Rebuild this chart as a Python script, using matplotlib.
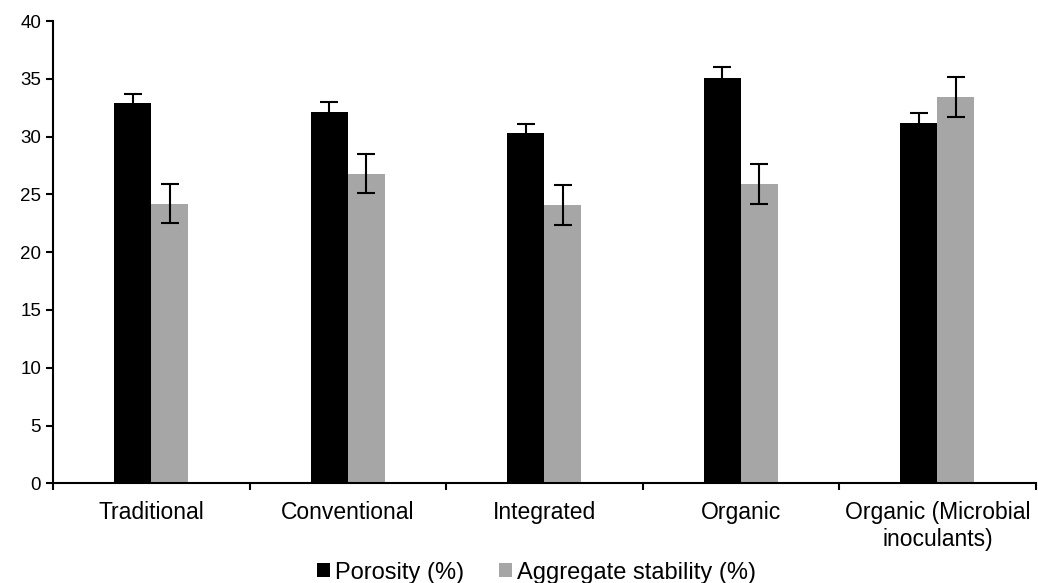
"""
Porosity and aggregate stability by farming system
"""
import numpy as np
import matplotlib.pyplot as plt

plt.rcParams['font.family'] = ['Liberation Sans', 'DejaVu Sans']

# data
categories = ['Traditional', 'Conventional', 'Integrated', 'Organic',
              'Organic (Microbial\ninoculants)']
porosity = [32.9, 32.1, 30.3, 35.1, 31.2]
porosity_err = [0.8, 0.9, 0.8, 0.9, 0.85]
stability = [24.2, 26.8, 24.1, 25.9, 33.4]
stability_err = [1.72, 1.72, 1.72, 1.72, 1.72]

fig = plt.figure(figsize=(10.38, 5.83), dpi=100)
ax = fig.add_axes([53 / 1038, 1 - 483.3 / 583, (1035.7 - 53) / 1038, (483.3 - 21) / 583])

x = np.arange(len(categories))
w = 0.188
err_kw = dict(ecolor='black', elinewidth=1.5, capsize=6.5, capthick=1.5)

ax.bar(x - w / 2, porosity, w, yerr=porosity_err, color='black',
       label='Porosity (%)', error_kw=err_kw)
ax.bar(x + w / 2, stability, w, yerr=stability_err, color='#a6a6a6',
       label='Aggregate stability (%)', error_kw=err_kw)

ax.set_xlim(-0.5, len(categories) - 0.5)
ax.set_ylim(0, 40)
ax.set_yticks(range(0, 41, 5))
ax.tick_params(axis='y', labelsize=13.5, length=5, width=1.5, direction='out')

# category labels between boundary ticks
ax.set_xticks(np.arange(len(categories) + 1) - 0.5)
ax.set_xticklabels([])
ax.tick_params(axis='x', length=5, width=1.5, direction='out')
ax.set_xticks(x, minor=True)
ax.set_xticklabels(categories, minor=True, fontsize=16.5, linespacing=1.2)
ax.tick_params(axis='x', which='minor', length=0, pad=13)

for side in ['top', 'right']:
    ax.spines[side].set_visible(False)
for side in ['left', 'bottom']:
    ax.spines[side].set_linewidth(1.5)

# legend at the bottom edge
leg_x = ((53 + 1035.7) / 2 - 8) / 1038
fig.legend(loc='center', bbox_to_anchor=(leg_x, 10.5 / 583), ncol=2, frameon=False,
           fontsize=17, handlelength=0.55, handleheight=0.55, handletextpad=0.2,
           columnspacing=1.5, borderpad=0)

plt.savefig('out.png', dpi=100)
plt.close()
